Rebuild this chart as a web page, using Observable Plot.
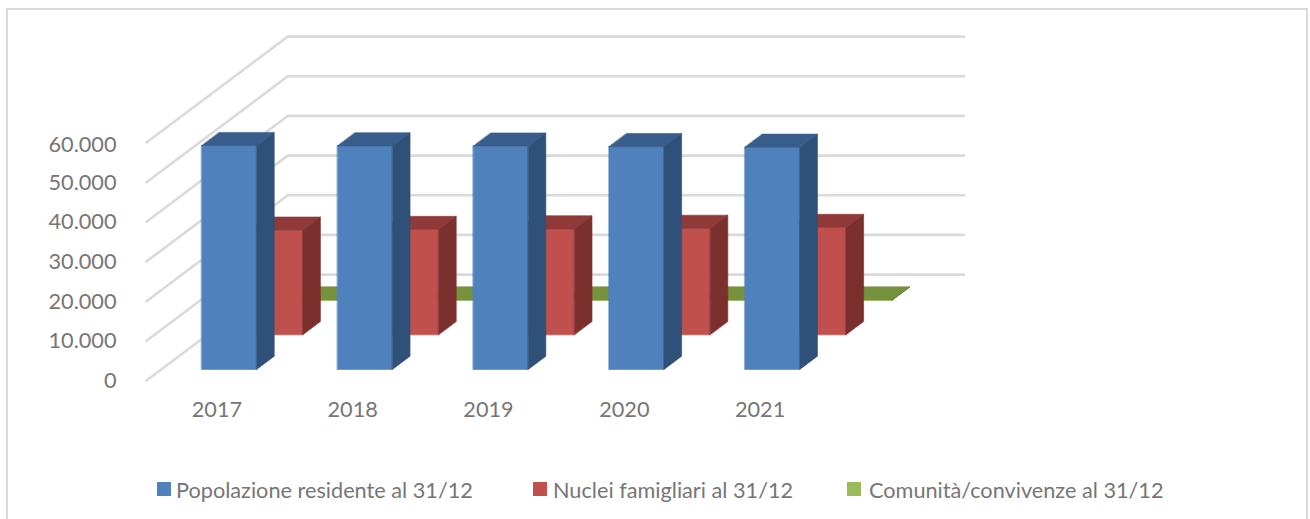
<!DOCTYPE html>
<html lang="it">
<head>
<meta charset="utf-8">
<script src="https://cdn.jsdelivr.net/npm/d3@7"></script>
<script src="https://cdn.jsdelivr.net/npm/@observablehq/plot@0.6"></script>
<style>
  html, body { margin: 0; padding: 0; background: #fff; overflow: hidden; }
  #frame { position: absolute; left: 6px; top: 8px; width: 1302px; height: 520px; border: 2px solid #d9d9d9; box-sizing: border-box; pointer-events: none; }
  #chart svg { display: block; }
  #legend { position: relative; height: 59px; font: 21.7px Lato, sans-serif; color: #767676; }
  #legend i { position: absolute; top: 22px; width: 14px; height: 14px; }
  #legend span { position: absolute; top: 17px; white-space: nowrap; }
</style>
</head>
<body>
<div id="frame"></div>
<div id="chart"></div>
<div id="legend"></div>
<script>
const years = [2017, 2018, 2019, 2020, 2021];
const popolazione = [56430, 56350, 56300, 56170, 56000];
const nuclei = [26370, 26550, 26700, 26830, 27050];
const comunita = [40, 40, 40, 40, 40];
const gridValues = [0, 10000, 20000, 30000, 40000, 50000, 60000];

const seriesNames = ["Popolazione residente al 31/12", "Nuclei famigliari al 31/12", "Comunità/convivenze al 31/12"];
const seriesFront = ["#4f81bd", "#c0504d", "#9bbb59"];
const seriesTop = ["#385d8a", "#8f3a38", "#76923c"];
const seriesSide = ["#2f5078", "#7b302e", "#5f7530"];

// oblique projection: depth 0..1 shifts a point along these data units
const depthX = 1.04;         // in category units
const depthY = 26700;        // in value units
const barWidth = 0.405;
const barDepth = 0.125;
const rowStart = [0.104, 0.431, 0.758];

const wallEnd = 4.48;
function project(cat, value, depth) {
  return {x: cat + depth * depthX, y: value + depth * depthY};
}

const polys = [];
function poly(face, row, id, pts) {
  pts.forEach(p => polys.push({face, row, id, ...p}));
}
[popolazione, nuclei, comunita].forEach((values, row) => {
  values.forEach((v, i) => {
    const x0 = i - barWidth / 2, x1 = i + barWidth / 2;
    const d0 = rowStart[row], d1 = d0 + barDepth;
    const id = `${row}-${i}`;
    poly("front", row, id + "f", [project(x0, 0, d0), project(x1, 0, d0), project(x1, v, d0), project(x0, v, d0)]);
    poly("top", row, id + "t", [project(x0, v, d0), project(x1, v, d0), project(x1, v, d1), project(x0, v, d1)]);
    poly("side", row, id + "s", [project(x1, 0, d0), project(x1, 0, d1), project(x1, v, d1), project(x1, v, d0)]);
  });
});

const gridPts = gridValues.flatMap(v => [
  {v, ...project(-0.5, v, 0)},
  {v, ...project(-0.5, v, 1)},
  {v, ...project(wallEnd, v, 1)}
]);

const faceMarks = [2, 1, 0].flatMap(row => ["front", "top", "side"].map(face => {
  const fill = {front: seriesFront, top: seriesTop, side: seriesSide}[face][row];
  return Plot.line(polys.filter(p => p.row === row && p.face === face), {
    x: "x", y: "y", z: "id", fill, stroke: fill, strokeWidth: 0.6, curve: "linear-closed"
  });
}));

const itFormat = d3.formatLocale({decimal: ",", thousands: ".", grouping: [3], currency: ["€", ""]}).format(",d");

const plot = Plot.plot({
  width: 1310,
  height: 460,
  marginLeft: 146,
  marginRight: 1310 - 825,
  marginTop: 142,
  marginBottom: 80,
  style: {fontFamily: "Lato, sans-serif", background: "transparent", overflow: "visible"},
  x: {domain: [-0.5, 4.5]},
  y: {domain: [0, 60000]},
  marks: [
    Plot.line(gridPts, {x: "x", y: "y", z: "v", stroke: "#dadada", strokeWidth: 2.6}),
    ...faceMarks,
    Plot.axisY({ticks: gridValues.slice(0, 6), tickSize: 0, tickPadding: 30, dy: 0.5, label: null, tickFormat: itFormat, fontSize: 21.7, color: "#767676"}),
    Plot.axisY({ticks: [60000], tickSize: 0, tickPadding: 30, dy: 3, label: null, tickFormat: itFormat, fontSize: 21.7, color: "#767676"}),
    Plot.axisX({ticks: [0, 1, 2, 3, 4], tickSize: 0, tickPadding: 21, dx: 2.5, label: null, tickFormat: i => String(years[i]), fontSize: 21.7, color: "#767676"})
  ]
});
document.getElementById("chart").appendChild(plot);

const legendX = [[157, 176], [533, 553], [847, 869]];
const legend = document.getElementById("legend");
seriesNames.forEach((name, k) => {
  const sw = document.createElement("i");
  sw.style.left = legendX[k][0] + "px";
  sw.style.background = seriesFront[k];
  const t = document.createElement("span");
  t.style.left = legendX[k][1] + "px";
  t.textContent = name;
  legend.append(sw, t);
});
</script>
</body>
</html>
